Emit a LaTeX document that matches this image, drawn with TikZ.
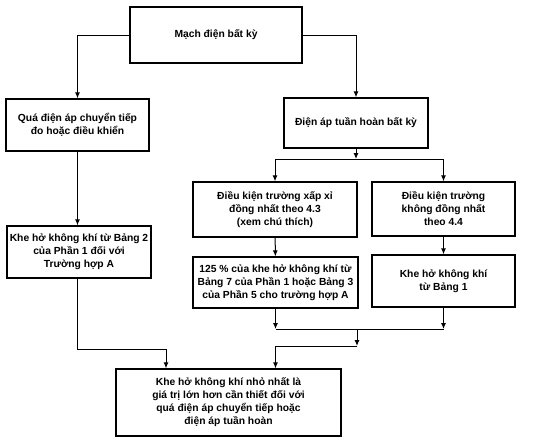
\documentclass[tikz,border=0pt]{standalone}
\usepackage{fontspec}
\setmainfont{Liberation Sans}
\usetikzlibrary{arrows.meta}
\tikzset{
  box/.style={draw, line width=1.3pt, align=center, inner sep=2pt,
    font=\fontsize{10.3}{13}\selectfont\bfseries},
  arr/.style={line width=1pt, -{Latex[length=6pt,width=5pt]}},
  ln/.style={line width=1pt}
}
\begin{document}
\begin{tikzpicture}[x=1pt,y=-1pt]
        \useasboundingbox (0,0) rectangle (553,439);
        \node[box, minimum width=172pt, minimum height=56pt] (mach) at (216,35) {Mạch điện bất kỳ};
        \node[box, minimum width=143pt, minimum height=52pt] (qua) at (77.5,125) {Quá điện áp chuyển tiếp\\đo hoặc điều khiển};
        \node[box, minimum width=144pt, minimum height=50pt] (tuan) at (356,123) {Điện áp tuần hoàn bất kỳ};
        \node[box, minimum width=164pt, minimum height=55pt] (xapxi) at (275,209.5) {Điều kiện trường xấp xỉ\\đồng nhất theo 4.3\\(xem chú thích)};
        \node[box, minimum width=143pt, minimum height=54pt] (khong) at (443.5,209) {Điều kiện trường\\không đồng nhất\\theo 4.4};
        \node[box, minimum width=144pt, minimum height=52pt] (bang2) at (79,252) {Khe hở không khí từ Bảng 2\\của Phần 1 đối với\\Trường hợp A};
        \node[box, minimum width=165pt, minimum height=51pt, inner sep=1pt] (bang7) at (275.5,282.5) {125 \% của khe hở không khí từ\\Bảng 7 của Phần 1 hoặc Bảng 3\\của Phần 5 cho trường hợp A};
        \node[box, minimum width=143pt, minimum height=52pt] (bang1) at (443.5,281) {Khe hở không khí\\từ Bảng 1};
        \node[box, minimum width=225pt, minimum height=67pt] (nho) at (228.5,402.5) {Khe hở không khí nhỏ nhất là\\giá trị lớn hơn cần thiết đối với\\quá điện áp chuyển tiếp hoặc\\điện áp tuần hoàn};

        % nhanh tren
        \draw[arr] (mach.west) -| (qua.north);
        \draw[arr] (mach.east) -| (tuan.north);
        \draw[arr] (qua.south) -- (qua.south |- bang2.north);

        % chia hai nhanh phai
        \coordinate (s1) at (356,159);
        \draw[arr] (tuan) -- (s1);
        \draw[ln] (xapxi.north |- s1) -- (khong.north |- s1);
        \draw[arr] (xapxi.north |- s1) -- (xapxi.north);
        \draw[arr] (khong.north |- s1) -- (khong.north);
        \draw[arr] (xapxi) -- (bang7);
        \draw[arr] (khong) -- (bang1);

        % gop lai
        \coordinate (g1) at (357,329);
        \coordinate (g2) at (357,346);
        \draw[arr] (bang7.south) -- (bang7.south |- g1);
        \draw[arr] (bang1.south) -- (bang1.south |- g1);
        \draw[ln] (bang7.south |- g1) -- (bang1.south |- g1);
        \draw[arr] (g1) -- (g2);
        \draw[ln] (g2) -- (bang7.south |- g2);
        \draw[arr] (bang7.south |- g2) -- (bang7.south |- nho.north);
        \coordinate (g3) at (166,349);
        \draw[arr] (qua.south |- bang2.south) |- (g3) -- (g3 |- nho.north);
\end{tikzpicture}
\end{document}
